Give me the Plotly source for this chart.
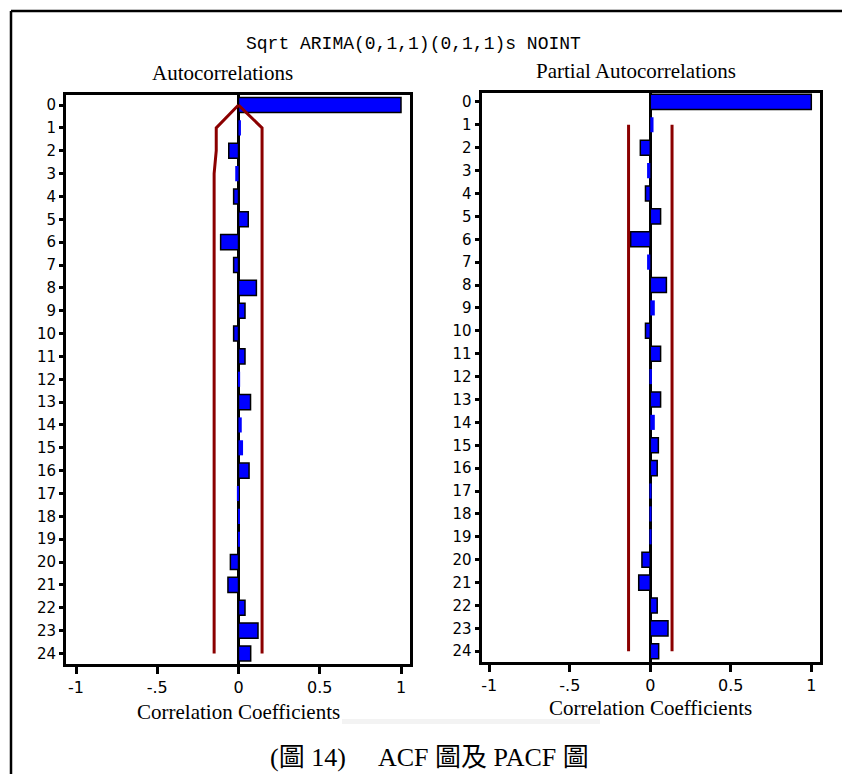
import plotly.graph_objects as go

W, H = 842, 774

# ---------------- data ----------------
lags = list(range(25))
acf = [1.0, 0.015, -0.06, -0.02, -0.03, 0.06, -0.11, -0.03, 0.11, 0.04, -0.03, 0.04, 0.01,
       0.074, 0.02, 0.028, 0.065, -0.01, 0.005, 0.005, -0.05, -0.065, 0.04, 0.12, 0.075]
pacf = [1.0, 0.02, -0.062, -0.02, -0.03, 0.064, -0.122, -0.02, 0.10, 0.028, -0.03, 0.064, 0.01,
        0.064, 0.028, 0.05, 0.043, 0.005, 0.003, 0.005, -0.052, -0.072, 0.043, 0.11, 0.052]
acf_upper = [0.0] + [0.145] * 24
acf_lower = [0.0, -0.137, -0.137] + [-0.15] * 22
pacf_band_lags = list(range(1, 25))
pacf_upper = [0.135] * 24
pacf_lower = [-0.135] * 24
x_tickvals = [-1, -0.5, 0, 0.5, 1]
x_ticktext = ["-1", "-.5", "0", "0.5", "1"]

title_text = "Sqrt ARIMA(0,1,1)(0,1,1)s NOINT"
left_title = "Autocorrelations"
right_title = "Partial Autocorrelations"
x_title = "Correlation Coefficients"
caption_a = "(圖 14)"
caption_b = "ACF 圖及 PACF 圖"

# ---------------- helpers ----------------
def px(x):
    return x / W

def py(y):
    return 1 - y / H

BLUE = "#0000ff"
RED = "#8b0000"

fig = go.Figure()

def add_panel(vals, xa, ya):
    lw = [1.5 if abs(v) >= 0.03 else 0 for v in vals]
    fig.add_trace(go.Bar(
        x=vals, y=lags, orientation="h", width=0.66,
        marker=dict(color=BLUE, line=dict(color="black", width=lw)),
        xaxis=xa, yaxis=ya, showlegend=False, hoverinfo="x+y"))

add_panel(acf, "x", "y")
fig.add_trace(go.Scatter(x=acf_upper, y=lags, mode="lines", line=dict(color=RED, width=3),
                         xaxis="x", yaxis="y", showlegend=False))
fig.add_trace(go.Scatter(x=acf_lower, y=lags, mode="lines", line=dict(color=RED, width=3),
                         xaxis="x", yaxis="y", showlegend=False))

add_panel(pacf, "x2", "y2")
fig.add_trace(go.Scatter(x=pacf_upper, y=pacf_band_lags, mode="lines", line=dict(color=RED, width=3),
                         xaxis="x2", yaxis="y2", showlegend=False))
fig.add_trace(go.Scatter(x=pacf_lower, y=pacf_band_lags, mode="lines", line=dict(color=RED, width=3),
                         xaxis="x2", yaxis="y2", showlegend=False))

tickfont_y = dict(family="DejaVu Sans", size=15, color="black")
tickfont_x = dict(family="DejaVu Sans", size=16, color="black")

def xaxis_cfg(d0, d1, zero, scale, anchor):
    return dict(domain=[px(d0), px(d1)],
                range=[(d0 - zero) / scale, (d1 - zero) / scale],
                tickvals=x_tickvals, ticktext=x_ticktext, tickfont=tickfont_x,
                showline=True, mirror=True, linecolor="black", linewidth=3,
                ticks="outside", ticklen=7, tickwidth=3, tickcolor="black",
                showgrid=False, zeroline=True, zerolinecolor="black", zerolinewidth=2.5,
                anchor=anchor, fixedrange=True)

def yaxis_cfg(top, bottom, r_top, r_bot, anchor):
    return dict(domain=[py(bottom), py(top)], range=[r_bot, r_top],
                tickvals=lags, tickfont=tickfont_y,
                showline=True, mirror=True, linecolor="black", linewidth=3,
                ticks="outside", ticklen=4, tickwidth=3, tickcolor="black",
                showgrid=False, zeroline=False, anchor=anchor, fixedrange=True)

fig.update_layout(
    width=W, height=H, margin=dict(l=0, r=0, t=0, b=0),
    paper_bgcolor="white", plot_bgcolor="white",
    xaxis=xaxis_cfg(66, 410, 238.5, 162.5, "y"),
    yaxis=yaxis_cfg(95, 663.5, -0.44, 24.44, "x"),
    xaxis2=xaxis_cfg(481.5, 820, 650.3, 161, "y2"),
    yaxis2=yaxis_cfg(93, 662, -0.39, 24.47, "x2"),
    barmode="overlay",
)

serif = "Liberation Serif, Noto Sans CJK TC"
annots = [
    (title_text, 413, 44, dict(family="Liberation Mono", size=18)),
    (left_title, 222, 73, dict(family="Liberation Serif", size=21)),
    (right_title, 636, 71, dict(family="Liberation Serif", size=21)),
    (x_title, 238, 712, dict(family="Liberation Serif", size=21)),
    (x_title, 650, 708, dict(family="Liberation Serif", size=21)),
    (caption_a, 308, 757, dict(family=serif, size=26)),
    (caption_b, 483, 757, dict(family=serif, size=26)),
]
for t, x, y, f in annots:
    f = dict(f, color="black")
    fig.add_annotation(text=t, x=px(x), y=py(y), xref="paper", yref="paper",
                       showarrow=False, xanchor="center", yanchor="middle", font=f)

# outer frame (top and left edges) and faint scan streak
fig.add_shape(type="line", xref="paper", yref="paper", x0=px(11), x1=1, y0=py(11), y1=py(11),
              line=dict(color="black", width=2.5))
fig.add_shape(type="line", xref="paper", yref="paper", x0=px(11), x1=px(11), y0=py(11), y1=0,
              line=dict(color="black", width=2.5))
fig.add_shape(type="rect", xref="paper", yref="paper", x0=px(342), x1=px(600), y0=py(724), y1=py(719),
              line=dict(width=0), fillcolor="#f3f3f3", layer="below")

fig.write_html("out.html")
